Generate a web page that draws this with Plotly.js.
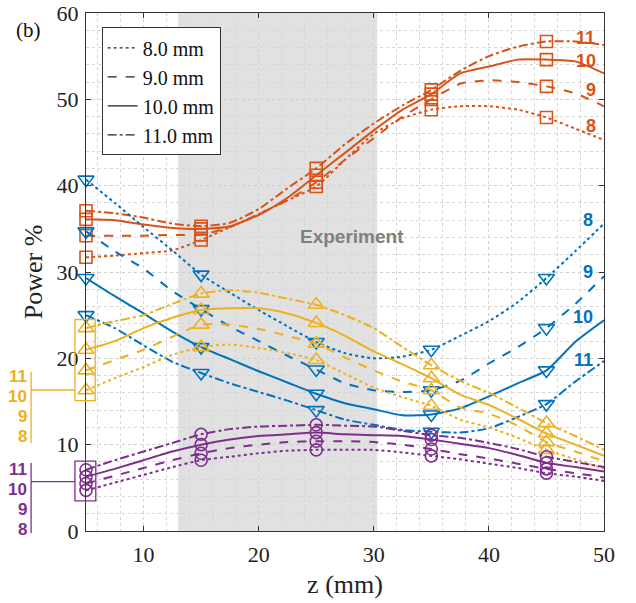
<!DOCTYPE html>
<html>
<head>
<meta charset="utf-8">
<script src="https://cdn.plot.ly/plotly-3.0.1.min.js"></script>
<style>html,body{margin:0;padding:0;background:#fff;}#chart{width:636px;height:603px;}</style>
</head>
<body>
<div id="chart"></div>
<script>
// ---- data ----
const z = [5, 7.5, 10, 12.5, 15, 17.5, 20, 22.5, 25, 27.5, 30, 32.5, 35, 37.5, 40, 42.5, 45, 47.5, 50];
const zMarkers = [5, 15, 25, 35, 45];
const legendLabels = ['8.0 mm', '9.0 mm', '10.0 mm', '11.0 mm'];
const diameterLabels = ['11', '10', '9', '8'];

// orange (squares)
const orange8  = [31.7, 31.9, 32.2, 32.5, 33.7, 35.2, 36.7, 38.3, 39.9, 43.0, 46.0, 47.8, 48.8, 49.2, 49.2, 48.8, 47.9, 46.6, 45.3];
const orange9  = [34.2, 34.2, 34.2, 34.3, 34.3, 35.2, 36.7, 38.3, 40.4, 43.0, 45.5, 48.0, 50.0, 51.8, 52.2, 52.0, 51.5, 50.7, 49.2];
const orange10 = [36.1, 36.0, 35.5, 35.1, 35.0, 35.3, 36.6, 38.6, 41.2, 43.8, 46.4, 48.8, 50.6, 53.0, 53.8, 54.6, 54.6, 54.4, 53.0];
const orange11 = [37.1, 36.8, 36.3, 35.6, 35.3, 35.7, 37.3, 39.7, 42.0, 44.8, 47.2, 49.3, 51.1, 53.3, 55.0, 56.1, 56.7, 56.7, 56.3];

// blue (down triangles)
const blue8  = [40.7, 38.0, 35.2, 32.5, 29.7, 27.6, 25.6, 23.7, 21.9, 20.6, 20.0, 20.2, 21.0, 22.6, 24.3, 26.5, 29.3, 32.4, 35.6];
const blue9  = [34.7, 32.4, 30.4, 27.8, 25.7, 23.7, 22.0, 20.3, 18.7, 17.1, 16.3, 16.1, 16.3, 17.4, 19.4, 21.3, 23.5, 26.3, 29.5];
const blue10 = [29.3, 27.2, 25.2, 23.1, 21.3, 19.9, 18.5, 17.2, 15.9, 14.8, 14.1, 13.4, 13.5, 14.2, 15.6, 17.1, 18.6, 21.9, 24.4];
const blue11 = [25.0, 23.5, 21.5, 19.6, 18.3, 17.1, 16.1, 15.1, 14.0, 12.9, 12.3, 11.7, 11.5, 11.4, 11.9, 13.2, 14.7, 17.3, 19.7];

// yellow (up triangles)
const yellow8  = [16.3, 17.7, 19.0, 20.4, 21.3, 21.6, 21.2, 20.6, 19.8, 18.2, 16.6, 15.5, 14.5, 12.9, 12.0, 10.8, 9.4, 8.3, 7.2];
const yellow9  = [18.6, 19.8, 21.0, 22.5, 23.9, 23.9, 23.4, 22.6, 21.7, 20.1, 18.6, 17.3, 16.3, 14.3, 13.6, 12.2, 10.3, 9.2, 8.1];
const yellow10 = [21.0, 22.0, 23.5, 24.7, 25.6, 25.8, 25.8, 25.2, 24.1, 22.6, 20.8, 19.3, 17.7, 15.8, 14.6, 13.0, 11.3, 10.0, 8.7];
const yellow11 = [23.5, 24.3, 25.0, 26.3, 27.5, 27.9, 27.6, 26.9, 26.2, 25.0, 23.5, 21.3, 19.2, 17.4, 16.0, 14.3, 12.5, 11.0, 9.4];

// purple (circles)
const purple8  = [4.7, 5.6, 6.5, 7.4, 8.2, 8.6, 9.0, 9.3, 9.4, 9.4, 9.4, 9.1, 8.7, 8.3, 7.8, 7.3, 6.7, 6.3, 5.8];
const purple9  = [5.5, 6.4, 7.3, 8.2, 9.0, 9.6, 10.0, 10.3, 10.4, 10.4, 10.3, 10.0, 9.5, 8.9, 8.4, 7.8, 7.2, 6.7, 6.2];
const purple10 = [6.3, 7.2, 8.2, 9.2, 10.0, 10.6, 11.0, 11.2, 11.4, 11.2, 11.1, 11.0, 10.6, 10.1, 9.6, 8.8, 7.9, 7.4, 6.9];
const purple11 = [7.1, 8.2, 9.2, 10.2, 11.2, 11.8, 12.1, 12.2, 12.3, 12.2, 12.1, 11.6, 11.1, 10.8, 10.2, 9.5, 8.6, 8.0, 7.4];

const experimentRange = [13, 30.3];

// ---- styles ----
const dashes = ['dot', 'dash', 'solid', 'dashdot'];
const groups = [
  {color: '#D95319', symbol: 'square-open', size: 12, series: [orange8, orange9, orange10, orange11]},
  {color: '#0072BD', symbol: 'triangle-down-open', size: 14, series: [blue8, blue9, blue10, blue11]},
  {color: '#EDB120', symbol: 'triangle-up-open', size: 14, series: [yellow8, yellow9, yellow10, yellow11]},
  {color: '#7E2F8E', symbol: 'circle-open', size: 12, series: [purple8, purple9, purple10, purple11]}
];

const traces = [];
legendLabels.forEach((lab, i) => {
  traces.push({x: [null], y: [null], type: 'scatter', mode: 'lines', name: lab,
    line: {color: '#222', width: 1.2, dash: dashes[i]}, showlegend: true, hoverinfo: 'skip'});
});

const markIdx = zMarkers.map(v => z.indexOf(v));
groups.forEach(g => {
  g.series.forEach((s, i) => {
    traces.push({x: z, y: s, type: 'scatter', mode: 'lines', showlegend: false,
      line: {color: g.color, width: 2, dash: dashes[i], shape: 'spline', smoothing: 0.6}});
  });
  g.series.forEach((s, i) => {
    traces.push({x: markIdx.map(k => z[k]), y: markIdx.map(k => s[k]), type: 'scatter', mode: 'markers',
      showlegend: false, cliponaxis: false,
      marker: {symbol: g.symbol, size: g.size, color: g.color, line: {color: g.color, width: 1.6}}});
  });
});

// helpers: data -> paper
const xr = [5, 50], yr = [0, 60];
const px = v => (v - xr[0]) / (xr[1] - xr[0]);
const py = v => (v - yr[0]) / (yr[1] - yr[0]);

const boldLab = (text, x, y, color, xref, yref, xanchor, size) => ({
  text: text, x: x, y: y, xref: xref, yref: yref, showarrow: false, xanchor: xanchor || 'center', yanchor: 'middle',
  borderpad: 0,
  font: {family: 'Liberation Sans, Arial, sans-serif', size: size || 18, color: color, weight: 'bold'}
});

const serif = 'Liberation Serif, Times New Roman, serif';
const annotations = [
  {text: '(b)', x: -0.111, y: 0.968, xref: 'paper', yref: 'paper', showarrow: false, xanchor: 'center', yanchor: 'middle',
   font: {family: serif, size: 21, color: '#111'}},
  {text: '<b>Experiment</b>', x: 28.15, y: 34.1, xref: 'x', yref: 'y', showarrow: false,
   font: {family: 'Liberation Sans, Arial, sans-serif', size: 19, color: '#808080'}},
  boldLab('11', 48.4, 57.1, '#D95319', 'x', 'y'),
  boldLab('10', 48.4, 54.4, '#D95319', 'x', 'y'),
  boldLab('9', 48.9, 51.1, '#D95319', 'x', 'y'),
  boldLab('8', 48.9, 46.9, '#D95319', 'x', 'y'),
  boldLab('8', 48.6, 36.0, '#0072BD', 'x', 'y'),
  boldLab('9', 48.6, 30.0, '#0072BD', 'x', 'y'),
  boldLab('10', 48.2, 24.8, '#0072BD', 'x', 'y'),
  boldLab('11', 48.2, 19.8, '#0072BD', 'x', 'y'),
];
const yellowLabY = [0.2973, 0.2587, 0.2201, 0.1815];
const purpleLabY = [0.1186, 0.080, 0.0414, 0.0028];
diameterLabels.forEach((t, i) => {
  annotations.push(boldLab(t, -0.112, yellowLabY[i], '#EDB120', 'paper', 'paper', 'right', 17));
  annotations.push(boldLab(t, -0.112, purpleLabY[i], '#7E2F8E', 'paper', 'paper', 'right', 17));
});

const shapes = [
  {type: 'rect', xref: 'x', yref: 'paper', x0: experimentRange[0], x1: experimentRange[1], y0: 0, y1: 1,
   fillcolor: '#e1e1e1', line: {width: 0}, layer: 'below'},
  {type: 'rect', xref: 'paper', yref: 'paper', x0: px(4.04), x1: px(5.8), y0: py(15.1), y1: py(24.5),
   line: {color: '#EDB120', width: 1.3}},
  {type: 'line', xref: 'paper', yref: 'paper', x0: -0.106, x1: -0.106, y0: 0.170, y1: 0.3075, line: {color: '#EDB120', width: 1.3}},
  {type: 'line', xref: 'paper', yref: 'paper', x0: -0.106, x1: px(4.04), y0: 0.2722, y1: 0.2722, line: {color: '#EDB120', width: 1.3}},
  {type: 'rect', xref: 'paper', yref: 'paper', x0: px(4.04), x1: px(5.85), y0: py(3.5), y1: py(8.1),
   line: {color: '#7E2F8E', width: 1.3}},
  {type: 'line', xref: 'paper', yref: 'paper', x0: -0.106, x1: -0.106, y0: -0.004, y1: 0.1313, line: {color: '#7E2F8E', width: 1.3}},
  {type: 'line', xref: 'paper', yref: 'paper', x0: -0.106, x1: px(4.04), y0: 0.0952, y1: 0.0952, line: {color: '#7E2F8E', width: 1.3}}
];

const axisCommon = {
  showline: true, linecolor: '#333', linewidth: 1, mirror: 'ticks',
  ticks: 'inside', ticklen: 5, tickcolor: '#333',
  showgrid: true, gridcolor: '#d0d0d0', gridwidth: 1, griddash: 'dot',
  zeroline: false, tickfont: {family: serif, size: 22, color: '#222'},
  minor: {dtick: 2, showgrid: true, gridcolor: '#d6d6d6', griddash: 'dot', gridwidth: 1, ticks: ''}
};

const layout = {
  width: 636, height: 603,
  margin: {l: 86, r: 32, t: 13, b: 72},
  paper_bgcolor: '#fff', plot_bgcolor: '#fff',
  xaxis: Object.assign({}, axisCommon, {range: xr, tick0: 0, dtick: 10, ticklabelstandoff: 4,
    title: {text: 'z (mm)', font: {family: serif, size: 26, color: '#222'}, standoff: 8}}),
  yaxis: Object.assign({}, axisCommon, {range: yr, tick0: 0, dtick: 10, ticklabelstandoff: 2,
    title: {text: 'Power %', font: {family: serif, size: 26, color: '#222'}, standoff: 6}}),
  showlegend: true,
  legend: {x: px(6.36), y: 0.9724, xanchor: 'left', yanchor: 'top', bgcolor: '#fff', bordercolor: '#333', borderwidth: 1,
    font: {family: serif, size: 20, color: '#111'}, tracegroupgap: 0},
  annotations: annotations,
  shapes: shapes
};

Plotly.newPlot('chart', traces, layout, {displayModeBar: false, staticPlot: true});
</script>
</body>
</html>
